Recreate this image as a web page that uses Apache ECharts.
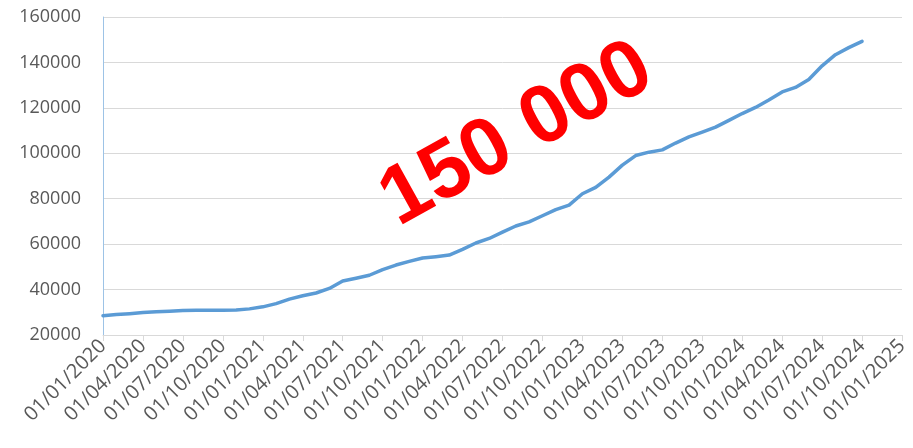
<!DOCTYPE html>
<html>
<head>
<meta charset="utf-8">
<script src="https://cdn.jsdelivr.net/npm/echarts@6/dist/echarts.min.js"></script>
<style>
html,body{margin:0;padding:0;background:#fff;}
#chart{width:913px;height:448px;}
</style>
</head>
<body>
<div id="chart"></div>
<script>
// Monthly categories (first of each month), Jan 2020 .. Jan 2025
var months = [
"01/01/2020","01/02/2020","01/03/2020","01/04/2020","01/05/2020","01/06/2020","01/07/2020","01/08/2020","01/09/2020","01/10/2020","01/11/2020","01/12/2020",
"01/01/2021","01/02/2021","01/03/2021","01/04/2021","01/05/2021","01/06/2021","01/07/2021","01/08/2021","01/09/2021","01/10/2021","01/11/2021","01/12/2021",
"01/01/2022","01/02/2022","01/03/2022","01/04/2022","01/05/2022","01/06/2022","01/07/2022","01/08/2022","01/09/2022","01/10/2022","01/11/2022","01/12/2022",
"01/01/2023","01/02/2023","01/03/2023","01/04/2023","01/05/2023","01/06/2023","01/07/2023","01/08/2023","01/09/2023","01/10/2023","01/11/2023","01/12/2023",
"01/01/2024","01/02/2024","01/03/2024","01/04/2024","01/05/2024","01/06/2024","01/07/2024","01/08/2024","01/09/2024","01/10/2024","01/11/2024","01/12/2024",
"01/01/2025"
];
// Values (Jan 2020 .. Oct 2024)
var values = [
28500,29000,29400,29900,30200,30500,30800,30900,30900,30900,31000,31500,
32400,33800,35800,37300,38500,40500,43800,45000,46300,48800,50800,52400,
53900,54500,55200,57700,60500,62500,65300,68000,69800,72500,75200,77200,
82200,85000,89500,94800,99000,100500,101500,104500,107200,109300,111500,114500,
117500,120200,123500,127000,129000,132500,138500,143400,146500,149300
];
var yTicks = {min:20000, max:160000, step:20000};
var stampText = "150 000";

var chart = echarts.init(document.getElementById('chart'), null, {renderer:'canvas'});
var font = "'Open Sans', 'Liberation Sans', sans-serif";
chart.setOption({
  animation:false,
  backgroundColor:'#ffffff',
  grid:{left:103, right:11, top:17, bottom:113, containLabel:false},
  xAxis:{
    type:'category',
    data:months,
    boundaryGap:false,
    axisLine:{show:true, lineStyle:{color:'#d9d9d9', width:1}},
    axisTick:{show:true, interval:2, length:6, lineStyle:{color:'#d9d9d9'}},
    axisLabel:{interval:2, rotate:45, color:'#595959', fontFamily:font, fontSize:20, margin:8},
    splitLine:{show:false}
  },
  yAxis:{
    type:'value',
    min:yTicks.min, max:yTicks.max, interval:yTicks.step,
    axisLine:{show:true, lineStyle:{color:'#9dc3e6', width:1}},
    axisTick:{show:false},
    axisLabel:{color:'#595959', fontFamily:font, fontSize:18, margin:22,
      formatter:function(v){return String(v);}},
    splitLine:{show:true, lineStyle:{color:'#d9d9d9', width:1}}
  },
  series:[{
    type:'line',
    data:values,
    showSymbol:false,
    symbol:'none',
    lineStyle:{color:'#5b9bd5', width:3.5, cap:'round', join:'round'},
    z:3
  }],
  graphic:[{
    type:'text',
    x:517, y:135,
    rotation:29*Math.PI/180,
    z:10,
    style:{
      text:stampText,
      fill:'#ff0000',
      font:"bold 82px 'Liberation Sans', Arial, sans-serif",
      textAlign:'center',
      textVerticalAlign:'middle'
    }
  }]
});
</script>
</body>
</html>
